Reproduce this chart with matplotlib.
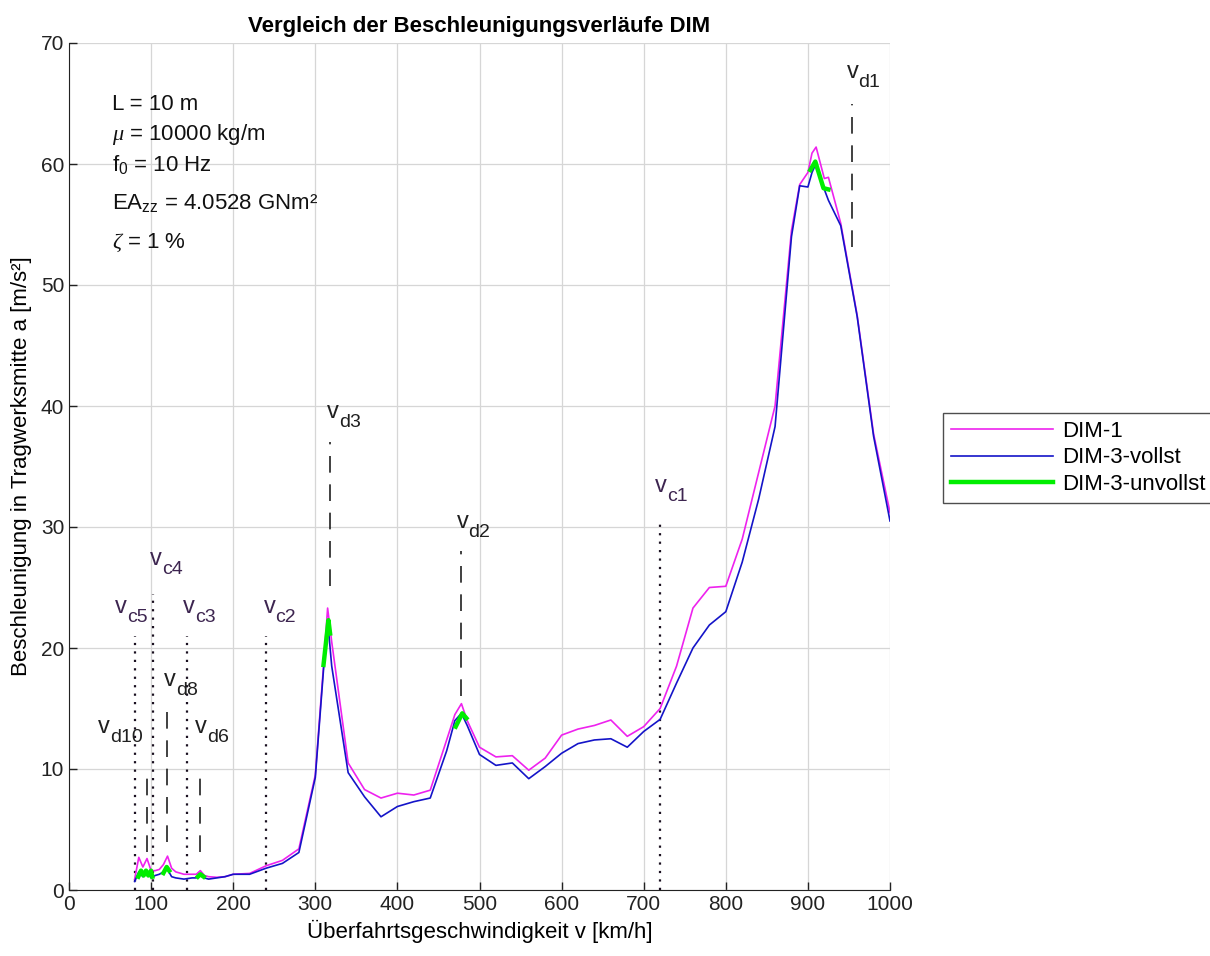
import numpy as np
import matplotlib
matplotlib.use('Agg')
import matplotlib.pyplot as plt

# Überfahrtsgeschwindigkeiten [km/h]
v = [80, 85, 90, 95, 100, 105, 110, 115, 120, 125, 130, 140, 150, 155, 160, 165,
     170, 180, 190, 200, 220, 240, 260, 280, 300, 310, 315, 320, 340, 360, 380,
     400, 420, 440, 460, 470, 478, 485, 500, 520, 540, 560, 580, 600, 620, 640,
     660, 680, 700, 720, 740, 760, 780, 800, 820, 840, 860, 880, 890, 900, 905,
     910, 920, 925, 940, 960, 980, 1000]

# Beschleunigung in Tragwerksmitte [m/s²]
a_dim1 = [0.9, 2.7, 1.9, 2.6, 1.6, 1.6, 1.7, 2.1, 2.8, 1.8, 1.5, 1.3, 1.3, 1.3,
          1.6, 1.2, 1.1, 1.05, 1.1, 1.3, 1.37, 2.0, 2.45, 3.4, 9.5, 18.5, 23.3,
          20.5, 10.5, 8.3, 7.6, 8.0, 7.85, 8.25, 12.4, 14.5, 15.4, 14.0, 11.8,
          11.0, 11.1, 9.9, 10.9, 12.8, 13.3, 13.6, 14.05, 12.7, 13.5, 15.0, 18.5,
          23.3, 25.0, 25.1, 29.0, 34.5, 40.0, 54.5, 58.3, 59.3, 60.9, 61.4, 58.8,
          58.9, 55.1, 47.5, 37.7, 31.2]
a_dim3_voll = [0.7, 1.5, 1.1, 1.5, 1.0, 1.2, 1.3, 1.5, 1.7, 1.1, 1.0, 0.9, 1.0,
               1.0, 1.2, 1.0, 0.9, 1.0, 1.1, 1.3, 1.3, 1.8, 2.2, 3.1, 9.3, 18.2,
               22.3, 18.5, 9.7, 7.7, 6.05, 6.9, 7.3, 7.6, 11.5, 14.0, 14.6, 13.6,
               11.2, 10.3, 10.5, 9.2, 10.2, 11.3, 12.1, 12.4, 12.5, 11.8, 13.1,
               14.1, 17.1, 20.0, 21.9, 23.0, 27.1, 32.3, 38.3, 54.0, 58.2, 58.1,
               59.3, 60.05, 57.9, 57.0, 54.9, 47.4, 37.5, 30.5]

# DIM-3 unvollständig, nur in den Resonanzbereichen (NaN trennt die Abschnitte)
v_unvoll = [84.4, 87.7, 90.9, 93.8, 96.6, 99.9, 101.5, np.nan,
            115, 119, 122, np.nan,
            157, 160, 164, np.nan,
            310, 316, 318, np.nan,
            471, 479, 484, np.nan,
            903, 909, 919, 925]
a_unvoll = [1.1, 1.6, 1.2, 1.6, 1.2, 1.6, 1.1, np.nan,
            1.4, 1.9, 1.6, np.nan,
            1.1, 1.3, 1.1, np.nan,
            18.6, 22.3, 21.2, np.nan,
            13.5, 14.6, 14.2, np.nan,
            59.5, 60.2, 58.0, 57.9]

# kritische Geschwindigkeiten v_cn = 720/(2n-1)
vc_names = ['c1', 'c2', 'c3', 'c4', 'c5']
vc_x = [720, 240, 144, 720 / 7, 80]
vc_top = [30.6, 21.0, 21.0, 24.5, 21.0]
vc_label_x = [714, 237, 139, 99, 56]
vc_label_y = [32.9, 22.9, 22.9, 26.9, 22.9]

# Resonanzgeschwindigkeiten v_di = 954/i
vd_names = ['d1', 'd2', 'd3', 'd6', 'd8', 'd10']
vd_x = [954, 477, 318, 159, 119.25, 95.4]
vd_bottom = [53.1, 16.0, 25.1, 3.1, 4.0, 3.1]
vd_top = [65.0, 28.0, 37.0, 10.1, 14.9, 10.1]
vd_label_x = [947, 472, 314, 153.5, 115.7, 35.7]
vd_label_y = [67.1, 29.9, 39.0, 13.0, 16.9, 13.0]

params = ['L = 10 m',
          r'$\mu$ = 10000 kg/m',
          r'f$_\mathrm{0}$ = 10 Hz',
          r'EA$_\mathrm{zz}$ = 4.0528 GNm²',
          r'$\zeta$ = 1 %']
params_y = [64.9, 62.4, 60.0, 56.8, 53.5]

plt.rcParams['font.family'] = ['Liberation Sans', 'DejaVu Sans']
plt.rcParams['mathtext.fontset'] = 'custom'
plt.rcParams['mathtext.rm'] = 'Liberation Sans'
plt.rcParams['mathtext.it'] = 'Liberation Serif:italic'
plt.rcParams['font.size'] = 16

fig = plt.figure(figsize=(12.1, 9.56), dpi=100)
ax = fig.add_axes([69 / 1210, 66 / 956, 821 / 1210, 847 / 956])

ax.plot(v, a_dim1, color='#ee22ee', lw=1.2, label='DIM-1', zorder=3)
ax.plot(v, a_dim3_voll, color='#1414c8', lw=1.2, label='DIM-3-vollst', zorder=4)
ax.plot(v_unvoll, a_unvoll, color='#00ee00', lw=3.2, label='DIM-3-unvollst', zorder=5)


def speed_label(x, y, sub, color):
    # "v" mit tief gestelltem Index wie im TeX-Interpreter
    ax.text(x, y, 'v', color=color, fontsize=17, ha='left', va='baseline')
    ax.annotate(sub, xy=(x, y), xytext=(8.6, -6.5), textcoords='offset points',
                color=color, fontsize=14, ha='left', va='baseline')


# Markierungen der kritischen Geschwindigkeiten (gepunktet)
for name, x, top, lx, ly in zip(vc_names, vc_x, vc_top, vc_label_x, vc_label_y):
    ax.plot([x, x], [0, top], color='#1a1020', lw=1.6,
            linestyle=(0, (1.0, 2.8)), zorder=2)
    speed_label(lx, ly, name, '#3d2550')

# Markierungen der Resonanzgeschwindigkeiten (gestrichelt)
for name, x, bot, top, lx, ly in zip(vd_names, vd_x, vd_bottom, vd_top,
                                     vd_label_x, vd_label_y):
    ax.plot([x, x], [bot, top], color='#202020', lw=1.2,
            linestyle=(0, (10, 7)), zorder=2)
    speed_label(lx, ly, name, '#202020')

for txt, y in zip(params, params_y):
    ax.text(52, y, txt, fontsize=16, ha='left', va='center', color='#111111')

ax.set_xlim(0, 1000)
ax.set_ylim(0, 70)
ax.set_xticks(np.arange(0, 1001, 100))
ax.set_yticks(np.arange(0, 71, 10))
ax.tick_params(direction='in', labelsize=15, length=6, width=1, colors='#222222')
ax.grid(True, color='#d6d6d6', lw=0.9)
ax.set_axisbelow(True)
for side in ['top', 'right']:
    ax.spines[side].set_visible(False)
for side in ['left', 'bottom']:
    ax.spines[side].set_color('#222222')

ax.set_title('Vergleich der Beschleunigungsverläufe DIM', fontsize=16,
             fontweight='bold', pad=8)
ax.set_xlabel('Überfahrtsgeschwindigkeit v [km/h]', fontsize=16, labelpad=4)
ax.set_ylabel('Beschleunigung in Tragwerksmitte a [m/s²]', fontsize=16, labelpad=6)

leg = ax.legend(loc='upper left', bbox_to_anchor=(943 / 1210, 1 - 413 / 956),
                bbox_transform=fig.transFigure, fontsize=16, handlelength=4.6,
                frameon=True, fancybox=False, borderpad=0.35, labelspacing=0.25,
                handletextpad=0.4, borderaxespad=0)
leg.get_frame().set_edgecolor('#222222')
leg.get_frame().set_linewidth(1.0)

fig.savefig('out.png', dpi=100)
